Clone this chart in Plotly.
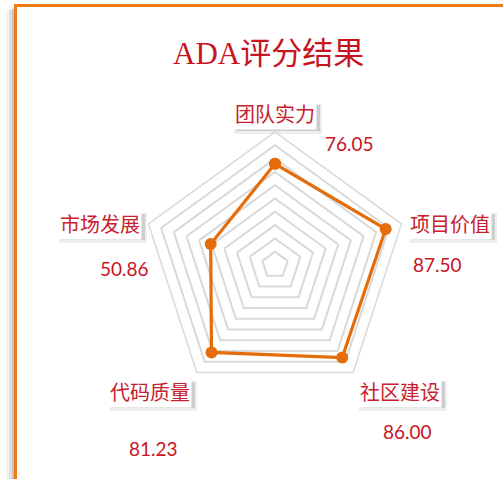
import plotly.graph_objects as go

# ---- data ----
categories = ["团队实力", "项目价值", "社区建设", "代码质量", "市场发展"]
scores = [76.05, 87.50, 86.00, 81.23, 50.86]
title_text = "ADA评分结果"

# ---- layout helpers (pixel positions of label boxes) ----
W, H = 503, 479
cat_pos = [(275, 114), (450, 223), (400, 391), (150, 391), (100, 223)]
val_pos = [(349, 143), (437, 264), (407, 431), (153, 448), (124, 268)]


def px(x):
    return x / W


def py(y):
    return 1 - y / H


cx, cy, R = 275, 265, 133

fig = go.Figure()
fig.add_trace(go.Scatterpolar(
    r=scores + [scores[0]],
    theta=categories + [categories[0]],
    mode="lines+markers",
    line=dict(color="#E46C0A", width=3.2),
    marker=dict(color="#E46C0A", size=12),
    hoverinfo="skip",
    showlegend=False,
))

annotations = []
shapes = []
# title
annotations.append(dict(
    x=px(268), y=py(53), xref="paper", yref="paper", showarrow=False,
    text=title_text, xanchor="center", yanchor="middle",
    font=dict(family="Liberation Serif, Noto Sans CJK SC", size=31, color="#C8141E"),
))
# category labels (white boxes with a soft grey shadow)
bw, bh = 84, 26
for (x, y), c in zip(cat_pos, categories):
    for dx, dy, grow, op in [(3, 5, 2, 0.10), (3, 4, 0, 0.22)]:
        shapes.append(dict(
            type="rect", xref="paper", yref="paper",
            x0=px(x - bw / 2 + dx - grow), x1=px(x + bw / 2 + dx + grow),
            y0=py(y + bh / 2 + dy + grow), y1=py(y - bh / 2 + dy - grow),
            fillcolor=f"rgba(90,90,90,{op})", line=dict(width=0), layer="below"))
    annotations.append(dict(
        x=px(x), y=py(y), xref="paper", yref="paper", showarrow=False,
        text=c, xanchor="center", yanchor="middle",
        font=dict(family="Noto Sans CJK SC", size=20, color="#C8202E"),
        bgcolor="white", borderpad=1,
    ))
# value labels
for (x, y), v in zip(val_pos, scores):
    annotations.append(dict(
        x=px(x), y=py(y), xref="paper", yref="paper", showarrow=False,
        text=f"{v:.2f}", xanchor="center", yanchor="middle",
        font=dict(family="Lato, Open Sans", size=19, color="#C8141E"),
    ))

shapes += [
    # left shadow of frame
    dict(type="rect", xref="paper", yref="paper", x0=px(6), x1=px(15), y0=py(600), y1=py(10),
         fillcolor="rgba(0,0,0,0.05)", line=dict(width=0), layer="below"),
    dict(type="rect", xref="paper", yref="paper", x0=px(9), x1=px(15), y0=py(600), y1=py(9),
         fillcolor="rgba(0,0,0,0.08)", line=dict(width=0), layer="below"),
    dict(type="rect", xref="paper", yref="paper", x0=px(12), x1=px(15), y0=py(600), y1=py(8),
         fillcolor="rgba(0,0,0,0.12)", line=dict(width=0), layer="below"),
    # orange frame (top and left edges; the others lie outside the picture)
    dict(type="line", xref="paper", yref="paper", x0=px(14.5), x1=px(510), y0=py(5.5), y1=py(5.5),
         line=dict(color="#EE7B16", width=3), layer="below"),
    dict(type="line", xref="paper", yref="paper", x0=px(15.5), x1=px(15.5), y0=py(4), y1=py(520),
         line=dict(color="#EE7B16", width=3), layer="below"),
]

fig.update_layout(
    width=W, height=H,
    margin=dict(l=0, r=0, t=0, b=0),
    paper_bgcolor="white",
    plot_bgcolor="white",
    annotations=annotations,
    shapes=shapes,
    polar=dict(
        domain=dict(x=[px(cx - R), px(cx + R)], y=[py(cy + R), py(cy - R)]),
        gridshape="linear",
        bgcolor="rgba(0,0,0,0)",
        radialaxis=dict(range=[0, 100], dtick=10, showticklabels=False, ticks="",
                        showline=False, gridcolor="#D9D9D9", gridwidth=1.5),
        angularaxis=dict(rotation=90, direction="clockwise", showticklabels=False,
                         ticks="", showgrid=False, showline=True,
                         linecolor="#D9D9D9", linewidth=1.5),
    ),
)

fig.write_html("out.html", config={"displayModeBar": False},
               post_script="document.body.style.margin='0';document.body.style.overflow='hidden';")
